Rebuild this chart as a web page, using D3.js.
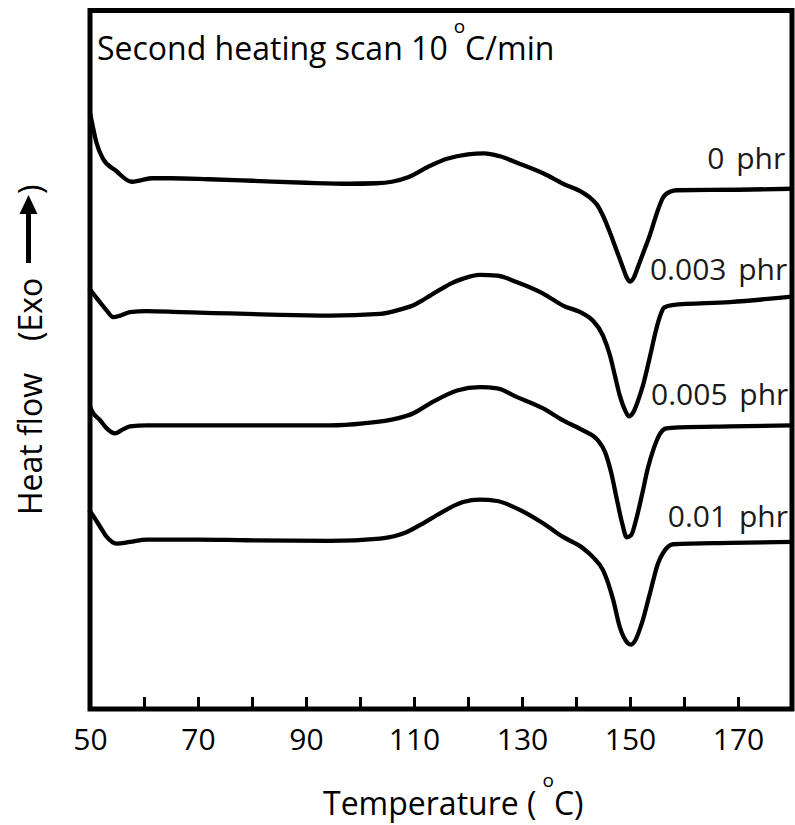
<!DOCTYPE html>
<html>
<head>
<meta charset="utf-8">
<script src="https://cdn.jsdelivr.net/npm/d3@7"></script>
<style>
  body { margin: 0; background: #fff; }
  text { font-family: "Open Sans", "Noto Sans", sans-serif; fill: #000; }
</style>
</head>
<body>
<svg id="chart" width="795" height="825"></svg>
<script>
// DSC second heating scans (10 °C/min), curves offset vertically, arbitrary heat-flow units
const seriesNames = ["0 phr", "0.003 phr", "0.005 phr", "0.01 phr"];

const temp0 = [50.0, 50.5, 51.2, 52.4, 54.8, 57.7, 59.4, 61.5, 65.0, 72.0, 80.0, 90.0, 98.0, 103.0, 105.9, 108.9, 113.0, 116.1, 120.0, 123.0, 125.9, 129.1, 134.1, 137.6, 141.3, 142.6, 143.9, 145.0, 146.3, 147.6, 148.7, 149.4, 150.0, 150.6, 151.5, 152.4, 153.7, 155.0, 156.1, 157.4, 158.7, 170.0, 180.0];
const flow0 = [59.7, 58.4, 56.7, 55.1, 53.9, 52.8, 52.95, 53.15, 53.15, 53.05, 52.9, 52.7, 52.6, 52.65, 52.8, 53.25, 54.4, 55.1, 55.55, 55.65, 55.35, 54.7, 53.6, 52.6, 51.7, 51.2, 50.5, 49.4, 47.7, 45.8, 44.2, 43.2, 42.8, 43.1, 44.3, 45.6, 47.5, 49.7, 51.2, 51.8, 51.95, 52.0, 52.1];

const temp1 = [50.0, 51.9, 53.1, 54.3, 55.6, 57.4, 60.5, 66.7, 72.8, 79.0, 85.2, 94.4, 103.7, 108.0, 109.8, 111.5, 113.0, 115.0, 117.0, 119.1, 122.2, 125.4, 129.1, 133.9, 137.6, 141.3, 143.1, 145.0, 146.3, 147.2, 148.1, 149.1, 149.8, 150.6, 151.5, 152.4, 153.7, 154.8, 155.6, 156.3, 157.8, 168.5, 180.0];
const flow1 = [42.0, 40.7, 39.9, 39.25, 39.4, 39.75, 39.85, 39.75, 39.65, 39.57, 39.47, 39.4, 39.57, 40.1, 40.4, 40.9, 41.4, 42.05, 42.65, 43.1, 43.47, 43.4, 42.73, 41.6, 40.4, 39.6, 38.9, 37.4, 35.4, 33.4, 31.4, 29.9, 29.3, 29.7, 30.9, 32.4, 35.3, 37.9, 39.4, 40.2, 40.45, 40.75, 41.3];

const temp2 = [50.0, 50.3, 51.9, 53.1, 54.6, 56.1, 57.4, 60.5, 72.8, 85.2, 94.4, 100.6, 106.9, 109.8, 113.0, 118.0, 122.2, 125.4, 129.1, 133.9, 137.6, 141.3, 143.9, 145.4, 146.5, 147.6, 148.5, 149.4, 150.2, 151.1, 152.2, 153.3, 154.4, 155.6, 156.7, 159.3, 168.5, 180.0];
const flow2 = [30.3, 29.9, 28.9, 28.1, 27.6, 28.0, 28.3, 28.4, 28.4, 28.4, 28.4, 28.6, 29.1, 29.6, 30.6, 31.9, 32.23, 32.1, 31.23, 30.1, 28.9, 27.9, 27.0, 25.7, 23.7, 20.9, 18.7, 17.2, 17.4, 18.9, 21.4, 24.1, 26.1, 27.6, 28.1, 28.2, 28.3, 28.4];

const temp3 = [50.0, 50.3, 51.9, 53.1, 54.9, 57.4, 60.5, 69.8, 79.0, 94.4, 103.7, 108.7, 111.7, 114.8, 119.1, 122.2, 125.4, 129.1, 133.9, 137.6, 141.3, 143.1, 145.0, 146.9, 148.1, 149.6, 150.2, 150.9, 152.2, 153.7, 155.2, 156.1, 158.0, 168.5, 180.0];
const flow3 = [19.8, 19.57, 18.23, 17.23, 16.57, 16.73, 16.97, 16.97, 16.9, 16.83, 17.07, 17.73, 18.6, 19.6, 20.73, 20.97, 20.83, 20.07, 18.6, 17.23, 16.1, 15.23, 13.9, 10.9, 8.23, 6.6, 6.45, 6.8, 8.6, 11.6, 14.6, 15.6, 16.5, 16.63, 16.73];

const xTicks = [50, 60, 70, 80, 90, 100, 110, 120, 130, 140, 150, 160, 170, 180];
const xTickLabels = [50, 70, 90, 110, 130, 150, 170];

const temps = [temp0, temp1, temp2, temp3];
const flows = [flow0, flow1, flow2, flow3];

// layout
const svg = d3.select("#chart");
const plotLeft = 90, plotRight = 792, plotTop = 10, plotBottom = 709;

const x = d3.scaleLinear().domain([50, 180]).range([plotLeft, plotRight]);
const y = d3.scaleLinear().domain([0, 70]).range([plotBottom, plotTop]);

// curves
const line = d3.line()
  .x(d => x(d[0]))
  .y(d => y(d[1]))
  .curve(d3.curveMonotoneX);

svg.append("g")
  .selectAll("path")
  .data(seriesNames.map((name, i) => temps[i].map((t, j) => [t, flows[i][j]])))
  .join("path")
  .attr("d", line)
  .attr("fill", "none")
  .attr("stroke", "#000")
  .attr("stroke-width", 4.3)
  .attr("stroke-linejoin", "round")
  .attr("stroke-linecap", "round");

// series labels, placed near the right end of each trace
const labelAnchors = [[164.3, 54.1], [153.7, 43.0], [153.9, 30.4], [157.0, 18.2]];
svg.append("g")
  .selectAll("text")
  .data(seriesNames)
  .join("text")
  .attr("x", (d, i) => x(labelAnchors[i][0]))
  .attr("y", (d, i) => y(labelAnchors[i][1]))
  .attr("font-size", 30)
  .attr("word-spacing", 4)
  .style("fill", "#1a1a1a")
  .text(d => d);

// bottom axis with inward ticks
const xAxis = d3.axisBottom(x)
  .tickValues(xTicks)
  .tickSizeInner(-12)
  .tickSizeOuter(0)
  .tickFormat(d => xTickLabels.includes(d) ? d : "");

const axG = svg.append("g")
  .attr("transform", `translate(0,${plotBottom})`)
  .call(xAxis);
axG.select(".domain").remove();
axG.selectAll(".tick line").attr("stroke", "#000").attr("stroke-width", 3);
axG.selectAll(".tick text")
  .attr("y", 41)
  .attr("dy", 0)
  .attr("font-size", 30)
  .attr("font-family", '"Open Sans", sans-serif')
  .style("fill", "#000");

// plot frame
svg.append("rect")
  .attr("x", plotLeft)
  .attr("y", plotTop + 0.5)
  .attr("width", plotRight - plotLeft)
  .attr("height", plotBottom - plotTop - 0.5)
  .attr("fill", "none")
  .attr("stroke", "#000")
  .attr("stroke-width", 5);

// title inside the frame
const title = svg.append("text")
  .attr("x", 97)
  .attr("y", 60)
  .attr("font-size", 32);
title.append("tspan").text("Second heating scan 10");
title.append("tspan").attr("font-size", 19).attr("dx", 6).attr("dy", -27).text("o");
title.append("tspan").attr("dy", 27).text("C/min");

// x-axis title
const xTitle = svg.append("text")
  .attr("x", 323)
  .attr("y", 815)
  .attr("font-size", 32);
xTitle.append("tspan").text("Temperature (");
xTitle.append("tspan").attr("font-size", 19).attr("dx", 6).attr("dy", -28).text("o");
xTitle.append("tspan").attr("dy", 28).text("C)");

// y-axis title with upward arrow
const yTitle = svg.append("g").attr("transform", "translate(42,0) rotate(-90)");
yTitle.append("text").attr("x", -515).attr("y", 0).attr("font-size", 32).text("Heat flow");
yTitle.append("text").attr("x", -341).attr("y", 0).attr("font-size", 32).text("(Exo");
yTitle.append("line")
  .attr("x1", -263).attr("x2", -212)
  .attr("y1", -13.5).attr("y2", -13.5)
  .attr("stroke", "#000")
  .attr("stroke-width", 5);
yTitle.append("path")
  .attr("d", "M-195,-13.5 L-214,-22.5 L-214,-4.5 Z")
  .attr("fill", "#000");
yTitle.append("text").attr("x", -194).attr("y", 0).attr("font-size", 32).text(")");
</script>
</body>
</html>
